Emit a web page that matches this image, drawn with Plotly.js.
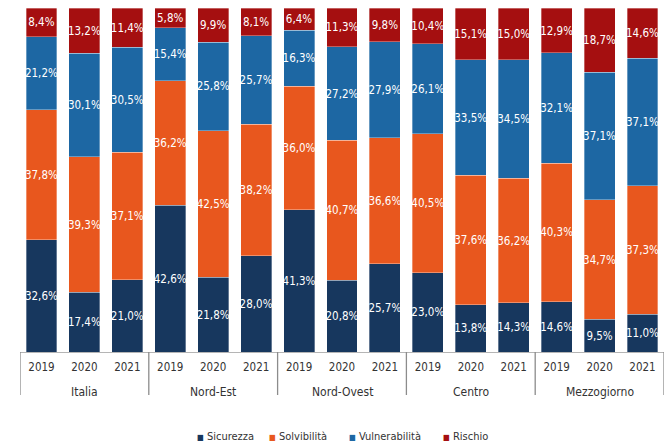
<!DOCTYPE html>
<html><head><meta charset="utf-8">
<script src="https://cdn.plot.ly/plotly-3.0.1.min.js"></script>
<style>html,body{margin:0;padding:0;background:#fff}#c{width:672px;height:446px}</style>
</head><body><div id="c"></div>
<script>
const groups = ["Italia","Nord-Est","Nord-Ovest","Centro","Mezzogiorno"];
const years = ["2019","2020","2021"];
const sicurezza = [32.6,17.4,21.0, 42.6,21.8,28.0, 41.3,20.8,25.7, 23.0,13.8,14.3, 14.6,9.5,11.0];
const solvibilita = [37.8,39.3,37.1, 36.2,42.5,38.2, 36.0,40.7,36.6, 40.5,37.6,36.2, 40.3,34.7,37.3];
const vulnerabilita = [21.2,30.1,30.5, 15.4,25.8,25.7, 16.3,27.2,27.9, 26.1,33.5,34.5, 32.1,37.1,37.1];
const rischio = [8.4,13.2,11.4, 5.8,9.9,8.1, 6.4,11.3,9.8, 10.4,15.1,15.0, 12.9,18.7,14.6];

const seriesNames = ["Sicurezza","Solvibilità","Vulnerabilità","Rischio"];
const seriesData = [sicurezza, solvibilita, vulnerabilita, rischio];
const colors = ["#17375E","#E8571E","#1D67A3","#A50F10"];
const FONT = "Liberation Sans Narrow, DejaVu Sans Condensed, Arial Narrow, sans-serif";

// category positions (one per bar) and their labels
const idx = [], tickText = [];
groups.forEach((g,gi)=>years.forEach((y,yi)=>{ idx.push(gi*years.length+yi); tickText.push(y); }));

const traces = seriesData.map((vals,i)=>({
  type:'bar',
  name: seriesNames[i],
  x: idx,
  y: vals,
  marker:{color:colors[i], line:{color:'rgba(255,255,255,0.55)', width:0.6}},
  texttemplate:'%{y:.1f}%',
  textposition:'inside',
  insidetextanchor:'middle',
  textangle:0,
  constraintext:'none',
  textfont:{color:'#ffffff', size:11.5, family:FONT},
  hoverinfo:'none',
  showlegend:false
}));

const n = groups.length*years.length;
const shapes = [];
for(let g=0; g<=groups.length; g++){
  const xb = g*years.length - 0.5;
  shapes.push({type:'line', xref:'x', yref:'paper', x0:xb, x1:xb, y0:0, y1:-0.125,
    line:{color:'#8c8c8c', width:1.3}});
}
const annotations = groups.map((g,gi)=>({
  text:g, xref:'x', yref:'paper', x:gi*years.length+(years.length-1)/2, y:-0.116,
  xanchor:'center', yanchor:'middle', showarrow:false,
  font:{family:FONT, size:12, color:'#333'}
}));
// legend built from series names / colours
const legX = [0.272, 0.384, 0.508, 0.654];
seriesNames.forEach((s,i)=>{
  annotations.push({
    text:'<span style="color:'+colors[i]+';font-size:8px">■</span> '+s,
    xref:'paper', yref:'paper', x:legX[i], y:-0.245, xanchor:'left', yanchor:'middle',
    showarrow:false, font:{family:FONT, size:11, color:'#333'}
  });
});

const layout = {
  width:672, height:446,
  barmode:'stack',
  bargap:0.28,
  separators:',.',
  margin:{l:20, r:8, t:8, b:94},
  paper_bgcolor:'#fff', plot_bgcolor:'#fff',
  font:{family:FONT, color:'#333', size:11},
  xaxis:{
    range:[-0.5, n-0.5], automargin:false,
    tickmode:'array', tickvals:idx, ticktext:tickText,
    showline:true, linecolor:'#b5b5b5', linewidth:1,
    ticks:'outside', tickcolor:'rgba(0,0,0,0)', ticklen:4,
    tickfont:{family:FONT, size:11.5, color:'#333'},
    showgrid:false, zeroline:false
  },
  yaxis:{range:[0,100], visible:false, showgrid:false, zeroline:false, automargin:false},
  showlegend:false,
  shapes:shapes,
  annotations:annotations
};
Plotly.newPlot('c', traces, layout, {displayModeBar:false, staticPlot:true});
</script></body></html>
